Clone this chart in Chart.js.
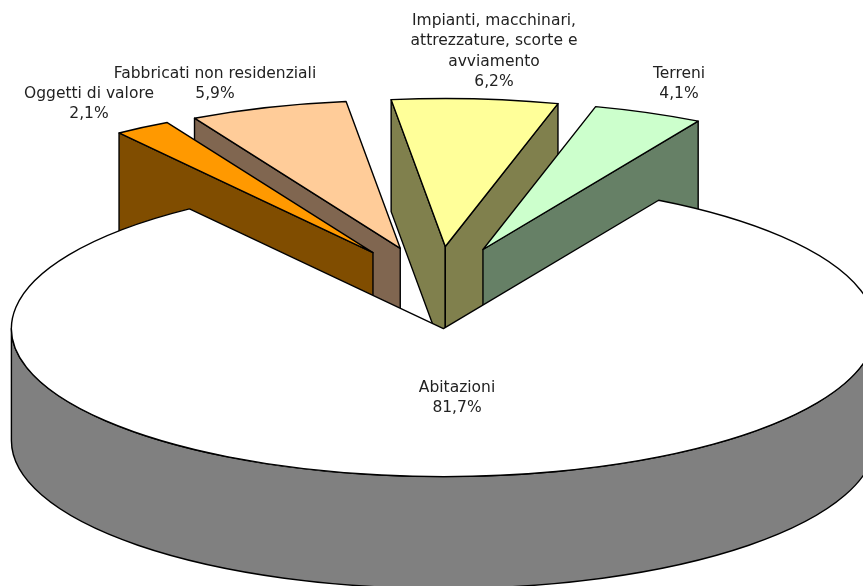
<!DOCTYPE html>
<html>
<head>
<meta charset="utf-8">
<title>Ricchezza</title>
<script src="https://cdn.jsdelivr.net/npm/chart.js@4/dist/chart.umd.min.js"></script>
<style>
  html, body { margin: 0; padding: 0; background: #fff; overflow: hidden; }
  canvas { display: block; }
</style>
</head>
<body>
<canvas id="pie3d" width="863" height="586"></canvas>
<script>
const categories = [
  'Oggetti di valore',
  'Fabbricati non residenziali',
  'Impianti, macchinari,\nattrezzature, scorte e\navviamento',
  'Terreni',
  'Abitazioni'
];
const values = [2.1, 5.9, 6.2, 4.1, 81.7];
const topColors = ['#ff9900', '#ffcc99', '#ffff99', '#ccffcc', '#ffffff'];
const wallColors = ['#804d00', '#806650', '#80804d', '#668066', '#808080'];

// first text line of each label, centre x / y
const labelAnchors = [[89, 94], [215, 74], [494, 21], [679, 74], [457, 388]];
const lineStep = 20.4;

// tilted pie geometry
const CX = 437, CY = 287.5, RX = 432, RY = 148;
const DEPTH = 112;
const EXPLODE = 0.278;

const pie3d = {
  id: 'pie3d',
  beforeDatasetDraw(chart) {
    const ctx = chart.ctx;
    const arcs = chart.getDatasetMeta(0).data;
    const mid = a => (a.startAngle + a.endAngle) / 2;
    const order = arcs.map((a, i) => i).sort((p, q) => Math.sin(mid(arcs[p])) - Math.sin(mid(arcs[q])));

    ctx.lineWidth = 1.4;
    ctx.strokeStyle = '#000';
    ctx.lineJoin = 'round';

    order.forEach(i => {
      const el = arcs[i];
      const h = mid(el);
      const ox = CX + Math.cos(h) * EXPLODE * RX;
      const oy = CY + Math.sin(h) * EXPLODE * RY;
      const edge = a => [ox + Math.cos(a) * RX, oy + Math.sin(a) * RY];
      ctx.fillStyle = wallColors[i];

      // radial cuts that face the viewer
      const cut = a => {
        const p = edge(a);
        ctx.beginPath();
        ctx.moveTo(ox, oy);
        ctx.lineTo(p[0], p[1]);
        ctx.lineTo(p[0], p[1] + DEPTH);
        ctx.lineTo(ox, oy + DEPTH);
        ctx.closePath();
        ctx.fill();
        ctx.stroke();
      };
      if (Math.cos(el.startAngle) < 0) cut(el.startAngle);
      if (Math.cos(el.endAngle) > 0) cut(el.endAngle);

      // front part of the rim
      const lo = Math.max(el.startAngle, 0);
      const hi = Math.min(el.endAngle, Math.PI);
      if (lo < hi) {
        ctx.beginPath();
        ctx.ellipse(ox, oy, RX, RY, 0, lo, hi);
        ctx.ellipse(ox, oy + DEPTH, RX, RY, 0, hi, lo, true);
        ctx.closePath();
        ctx.fill();
        ctx.stroke();
      }

      // top face, squashed from the library's own arc
      const k = el.outerRadius;
      ctx.save();
      ctx.translate(ox, oy);
      ctx.scale(RX / k, RY / k);
      ctx.translate(-el.x, -el.y);
      el.draw(ctx);
      ctx.restore();

      const a0 = edge(el.startAngle);
      ctx.beginPath();
      ctx.moveTo(ox, oy);
      ctx.lineTo(a0[0], a0[1]);
      ctx.ellipse(ox, oy, RX, RY, 0, el.startAngle, el.endAngle);
      ctx.closePath();
      ctx.stroke();
    });
    return false;
  },
  afterDatasetsDraw(chart) {
    const ctx = chart.ctx;
    ctx.save();
    ctx.font = '15.5px "DejaVu Sans"';
    ctx.fillStyle = '#222';
    ctx.textAlign = 'center';
    ctx.textBaseline = 'middle';
    categories.forEach((c, i) => {
      const lines = c.split('\n');
      lines.push(values[i].toFixed(1).replace('.', ',') + '%');
      lines.forEach((t, n) => ctx.fillText(t, labelAnchors[i][0], labelAnchors[i][1] + n * lineStep));
    });
    ctx.restore();
  }
};

new Chart(document.getElementById('pie3d'), {
  type: 'pie',
  data: {
    labels: categories,
    datasets: [{
      data: values,
      backgroundColor: topColors,
      borderWidth: 0
    }]
  },
  options: {
    responsive: false,
    animation: false,
    rotation: -36,
    layout: { padding: 0 },
    plugins: { legend: { display: false }, tooltip: { enabled: false } }
  },
  plugins: [pie3d]
});
</script>
</body>
</html>
